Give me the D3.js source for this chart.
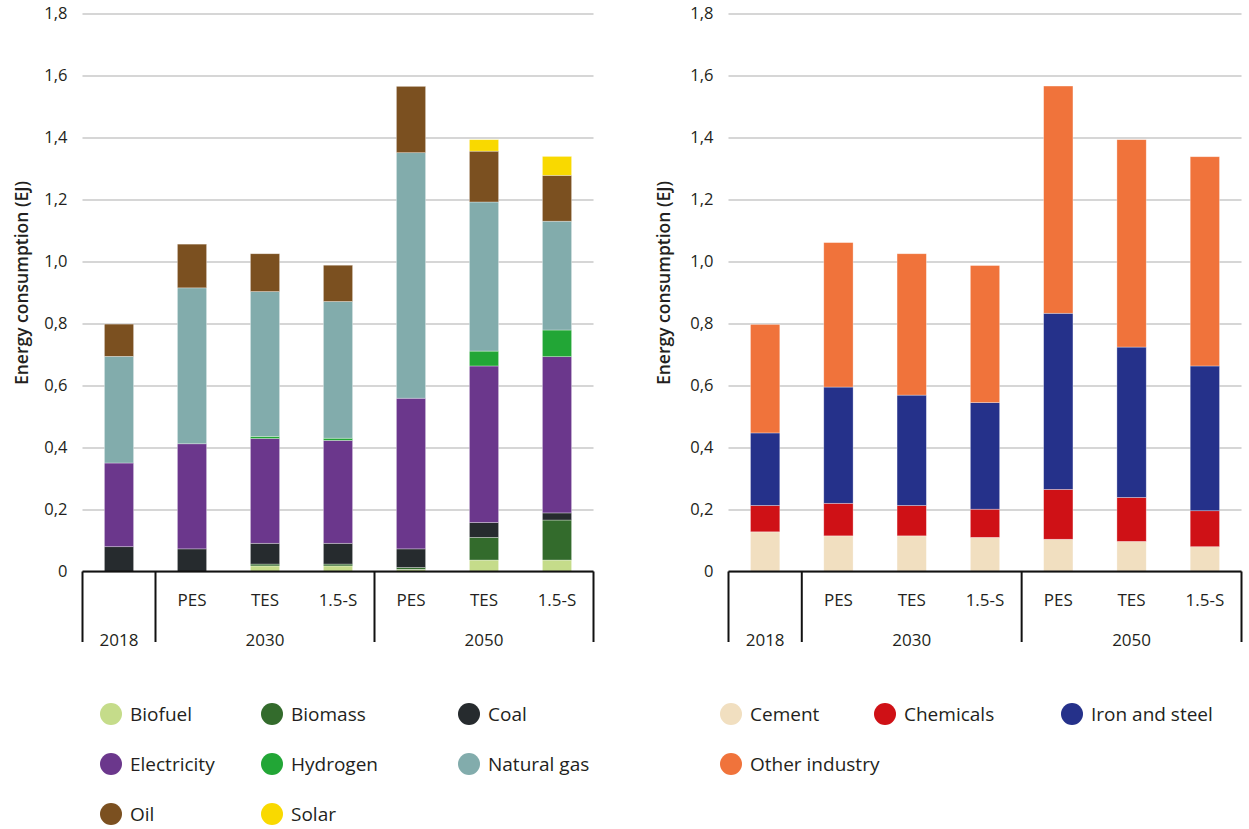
<!DOCTYPE html>
<html>
<head>
<meta charset="utf-8">
<script src="https://cdn.jsdelivr.net/npm/d3@7"></script>
<style>
  html, body { margin: 0; padding: 0; background: #fff; }
  svg { display: block; font-family: "Open Sans", "Noto Sans", sans-serif; }
</style>
</head>
<body>
<svg id="chart" width="1249" height="829"></svg>
<script>
// ---------- Data ----------
const scenarios = ["2018", "PES", "TES", "1.5-S", "PES", "TES", "1.5-S"];
const scenarioLabels = ["", "PES", "TES", "1.5-S", "PES", "TES", "1.5-S"];
const groupLabels = ["2018", "2030", "2050"];
const groupSizes = [1, 3, 3];
const yTicks = [0, 0.2, 0.4, 0.6, 0.8, 1.0, 1.2, 1.4, 1.6, 1.8];

// Left chart: energy carriers (EJ)
const biofuel     = [0,     0,     0.018, 0.018, 0.007, 0.037, 0.037];
const biomass     = [0,     0,     0.006, 0.006, 0.006, 0.073, 0.129];
const coal        = [0.080, 0.073, 0.067, 0.067, 0.060, 0.048, 0.023];
const electricity = [0.270, 0.339, 0.338, 0.332, 0.486, 0.505, 0.504];
const hydrogen    = [0,     0,     0.007, 0.007, 0,     0.048, 0.086];
const naturalGas  = [0.344, 0.503, 0.467, 0.441, 0.792, 0.481, 0.351];
const oil         = [0.104, 0.141, 0.122, 0.117, 0.214, 0.164, 0.148];
const solar       = [0,     0,     0,     0,     0,     0.037, 0.061];

// Right chart: industry sectors (EJ)
const cement        = [0.128, 0.115, 0.115, 0.110, 0.104, 0.097, 0.080];
const chemicals     = [0.085, 0.105, 0.098, 0.091, 0.161, 0.142, 0.116];
const ironAndSteel  = [0.234, 0.375, 0.356, 0.344, 0.568, 0.485, 0.467];
const otherIndustry = [0.350, 0.466, 0.456, 0.442, 0.733, 0.669, 0.675];

const leftSeriesNames = ["Biofuel", "Biomass", "Coal", "Electricity", "Hydrogen", "Natural gas", "Oil", "Solar"];
const leftSeriesValues = [biofuel, biomass, coal, electricity, hydrogen, naturalGas, oil, solar];
const leftColors = ["#c5dc8a", "#336b2c", "#262b2e", "#6b378c", "#22a636", "#82acac", "#7b5020", "#f9d900"];

const rightSeriesNames = ["Cement", "Chemicals", "Iron and steel", "Other industry"];
const rightSeriesValues = [cement, chemicals, ironAndSteel, otherIndustry];
const rightColors = ["#f1dfc0", "#cf1116", "#25318a", "#f0733b"];

const yTitle = "Energy consumption (EJ)";

// ---------- Drawing ----------
const svg = d3.select("#chart");
const textColor = "#231f20";
const yBase = 571.5, yTop = 13.5;

function fmt(d) {
  return d === 0 ? "0" : d3.format(".1f")(d).replace(".", ",");
}

function drawChart(opts) {
  const { x0, x1, names, values, colors, titleX, legend } = opts;
  const g = svg.append("g");

  const y = d3.scaleLinear().domain([0, 1.8]).range([yBase, yTop]);
  const x = d3.scaleBand().domain(d3.range(scenarios.length)).range([x0, x1]).padding(0);
  const barW = x.bandwidth() * 0.4;

  // gridlines + tick labels via axis
  const yAxis = d3.axisLeft(y).tickValues(yTicks).tickFormat(fmt)
    .tickSize(-(x1 - x0)).tickPadding(15);
  const ya = g.append("g").attr("transform", `translate(${x0},0)`).call(yAxis);
  ya.select(".domain").remove();
  ya.selectAll(".tick line").attr("stroke", "#c8c8c8").attr("stroke-width", 1.6);
  ya.selectAll(".tick text").attr("fill", textColor).style("font-size", "16.5px")
    .attr("font-family", "'Open Sans', sans-serif");

  // y title
  g.append("text")
    .attr("transform", `translate(${titleX},283) rotate(-90)`)
    .attr("text-anchor", "middle")
    .attr("fill", textColor)
    .style("font-size", "17.5px").style("font-weight", 600)
    .text(yTitle);

  // stacked bars
  const rows = scenarios.map((s, i) => {
    const r = { idx: i };
    names.forEach((n, k) => r[n] = values[k][i]);
    return r;
  });
  const stack = d3.stack().keys(names)(rows);
  stack.forEach((layer, k) => {
    g.append("g").selectAll("rect").data(layer).join("rect")
      .attr("x", d => x(d.data.idx) + (x.bandwidth() - barW) / 2)
      .attr("width", barW)
      .attr("y", d => y(d[1]))
      .attr("height", d => Math.max(0, y(d[0]) - y(d[1])))
      .attr("fill", colors[k])
      .attr("stroke", "rgba(255,255,255,0.45)")
      .attr("stroke-width", 0.7);
  });

  // category axis
  const ax = g.append("g").attr("stroke", "#111").attr("stroke-width", 2).attr("fill", "none");
  ax.append("line").attr("x1", x0).attr("x2", x1).attr("y1", yBase).attr("y2", yBase);
  let start = 0;
  const bounds = [0];
  groupSizes.forEach(n => { start += n; bounds.push(start); });
  bounds.forEach(b => {
    const bx = b < scenarios.length ? x(b) : x1;
    ax.append("line").attr("x1", bx).attr("x2", bx).attr("y1", yBase).attr("y2", 642);
  });
  g.append("g").selectAll("text").data(scenarioLabels).join("text")
    .attr("x", (d, i) => x(i) + x.bandwidth() / 2)
    .attr("y", 606)
    .attr("text-anchor", "middle")
    .attr("fill", textColor)
    .style("font-size", "17px")
    .text(d => d);
  g.append("g").selectAll("text").data(groupLabels).join("text")
    .attr("x", (d, i) => {
      const a = bounds[i], b = bounds[i + 1];
      const xa = x(a), xb = b < scenarios.length ? x(b) : x1;
      return (xa + xb) / 2;
    })
    .attr("y", 646)
    .attr("text-anchor", "middle")
    .attr("fill", textColor)
    .style("font-size", "17px")
    .text(d => d);

  // legend
  const lg = g.append("g");
  names.forEach((n, k) => {
    const col = k % 3, row = Math.floor(k / 3);
    const cx = legend.cols[col], cy = legend.rows[row];
    lg.append("circle").attr("cx", cx).attr("cy", cy).attr("r", 11).attr("fill", colors[k]);
    lg.append("text").attr("x", cx + 19).attr("y", cy + 7)
      .attr("fill", textColor).style("font-size", "19px").text(n);
  });
}

drawChart({
  x0: 82.5, x1: 593.5,
  names: leftSeriesNames, values: leftSeriesValues, colors: leftColors,
  titleX: 28,
  legend: { cols: [111, 272, 469], rows: [714, 764, 814] }
});

drawChart({
  x0: 728.5, x1: 1241.5,
  names: rightSeriesNames, values: rightSeriesValues, colors: rightColors,
  titleX: 670,
  legend: { cols: [731, 885, 1072], rows: [714, 764] }
});
</script>
</body>
</html>
